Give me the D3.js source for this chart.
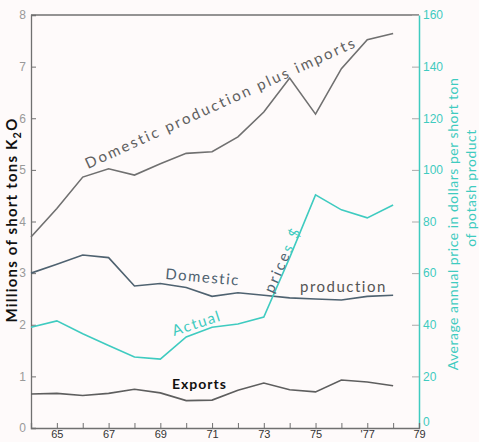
<!DOCTYPE html>
<html>
<head>
<meta charset="utf-8">
<title>Potash</title>
<script src="https://cdn.jsdelivr.net/npm/d3@7"></script>
<style>
  body { margin: 0; background: #fff; }
  svg { font-family: "Lato", "DejaVu Sans", sans-serif; }
  .tick text { font-size: 12px; }
  .lbl { font-size: 14px; letter-spacing: 1.5px; }
</style>
</head>
<body>
<script>
// years on x axis
var years = [64,65,66,67,68,69,70,71,72,73,74,75,76,77,78];
// millions of short tons K2O
var supply   = [3.70,4.25,4.86,5.02,4.90,5.12,5.32,5.35,5.64,6.12,6.78,6.08,6.96,7.52,7.64];
var domestic = [3.00,3.17,3.35,3.30,2.75,2.80,2.72,2.55,2.62,2.57,2.52,2.50,2.48,2.55,2.57];
var exports  = [0.66,0.67,0.63,0.67,0.75,0.68,0.53,0.54,0.73,0.87,0.74,0.70,0.93,0.89,0.82];
// dollars per short ton
var price    = [39,41.5,36.5,32,27.5,26.7,35.3,39,40.3,43,66,90.3,84.5,81.4,86.4];
var leftTicks  = [0,1,2,3,4,5,6,7,8];
var rightTicks = [0,20,40,60,80,100,120,140,160];
var yearLabels = {65:"65",67:"67",69:"69",71:"71",73:"73",75:"75",77:"'77",79:"79"};

var W = 479, H = 442;
var m = {l: 31, r: 60, t: 15, b: 14};
var x0 = m.l, x1 = W - m.r, y0 = H - m.b, y1 = m.t;

var gray = "#707070", slate = "#4f6270", teal = "#3fcbc0";

var svg = d3.select("body").append("svg").attr("width", W).attr("height", H);
svg.append("rect").attr("width", W).attr("height", H).attr("fill", "#fefafa");

var x = d3.scaleLinear().domain([64, 79]).range([x0, x1]);
var y = d3.scaleLinear().domain([0, 8]).range([y0, y1]);
var yp = d3.scaleLinear().domain([0, 160]).range([y0, y1]);

// frame top
svg.append("line").attr("x1", x0).attr("x2", x1).attr("y1", y1).attr("y2", y1)
   .attr("stroke", gray).attr("stroke-width", 1.3);

// left axis
var gl = svg.append("g").attr("transform", "translate(" + x0 + ",0)")
  .call(d3.axisRight(y).tickValues(leftTicks).tickSize(5).tickFormat(d3.format("d")));
gl.select(".domain").attr("stroke", gray).attr("stroke-width", 1.3);
gl.selectAll(".tick line").attr("stroke", gray);
gl.selectAll(".tick text").attr("x", -5).attr("text-anchor", "end").attr("fill", "#999");

// right axis
var gr = svg.append("g").attr("transform", "translate(" + x1 + ",0)")
  .call(d3.axisRight(yp).tickValues(rightTicks).tickSize(0).tickFormat(d3.format("d")));
gr.select(".domain").attr("stroke", teal).attr("stroke-width", 1.5);
gr.selectAll(".tick text").attr("x", 4).attr("fill", teal)
  .attr("dy", function(d){ return d === 0 ? "-0.2em" : "0.32em"; });
gr.selectAll(".tick").append("line").attr("x1", -7).attr("x2", 0).attr("stroke", "#aaa");

// bottom axis
var gb = svg.append("g").attr("transform", "translate(0," + y0 + ")")
  .call(d3.axisBottom(x).tickValues(d3.range(64, 80)).tickSize(-5)
        .tickFormat(function(d){ return yearLabels[d] || ""; }));
gb.select(".domain").attr("stroke", gray).attr("stroke-width", 1.3);
gb.selectAll(".tick line").attr("stroke", gray);
gb.selectAll(".tick text").attr("y", 2).attr("fill", "#333").style("font-size", "11px");

var lineL = d3.line().x(function(d, i){ return x(years[i]); }).y(function(d){ return y(d); });
var lineP = d3.line().x(function(d, i){ return x(years[i]); }).y(function(d){ return yp(d); });

svg.append("path").attr("d", lineL(supply)).attr("fill", "none").attr("stroke", gray).attr("stroke-width", 1.6);
svg.append("path").attr("d", lineL(domestic)).attr("fill", "none").attr("stroke", slate).attr("stroke-width", 1.6);
svg.append("path").attr("d", lineL(exports)).attr("fill", "none").attr("stroke", "#5e5e5e").attr("stroke-width", 1.6);
svg.append("path").attr("d", lineP(price)).attr("fill", "none").attr("stroke", teal).attr("stroke-width", 1.6);

// curve labels
function label(txt, px, py, rot, col, cls) {
  return svg.append("text").attr("class", cls || "lbl")
    .attr("transform", "translate(" + px + "," + py + ") rotate(" + rot + ")")
    .attr("fill", col).text(txt);
}
label("Domestic production plus imports", 88, 169, -24.5, "#606060")
  .style("font-size", "15px").style("letter-spacing", "2.3px");
label("Domestic", 165, 279, 5, slate).style("font-size", "15px");
label("production", 300, 292, 0, "#555").style("font-size", "15px");
label("Actual", 174, 336, -18, teal).style("font-size", "15px");
var pr = label("price", 273, 294, -66, slate).style("font-size", "15px").style("letter-spacing", "2.4px");
pr.append("tspan").attr("fill", teal).text("s $");
label("Exports", 172, 389, 0, "#111").attr("font-weight", "bold").style("letter-spacing", "1px");

// axis titles
svg.append("text").attr("transform", "translate(17,220) rotate(-90)")
  .attr("text-anchor", "middle").attr("font-size", 15).attr("font-weight", "bold")
  .attr("fill", "#111").style("letter-spacing", "1.2px")
  .html('Millions of short tons K<tspan dy="4" font-size="11">2</tspan><tspan dy="-4">O</tspan>');
svg.append("text").attr("transform", "translate(458,224) rotate(-90)")
  .attr("text-anchor", "middle").attr("font-size", 14).attr("fill", teal)
  .style("letter-spacing", "0.5px")
  .text("Average annual price in dollars per short ton");
svg.append("text").attr("transform", "translate(476,188) rotate(-90)")
  .attr("text-anchor", "middle").attr("font-size", 14).attr("fill", teal)
  .style("letter-spacing", "0.5px")
  .text("of potash product");
</script>
</body>
</html>
